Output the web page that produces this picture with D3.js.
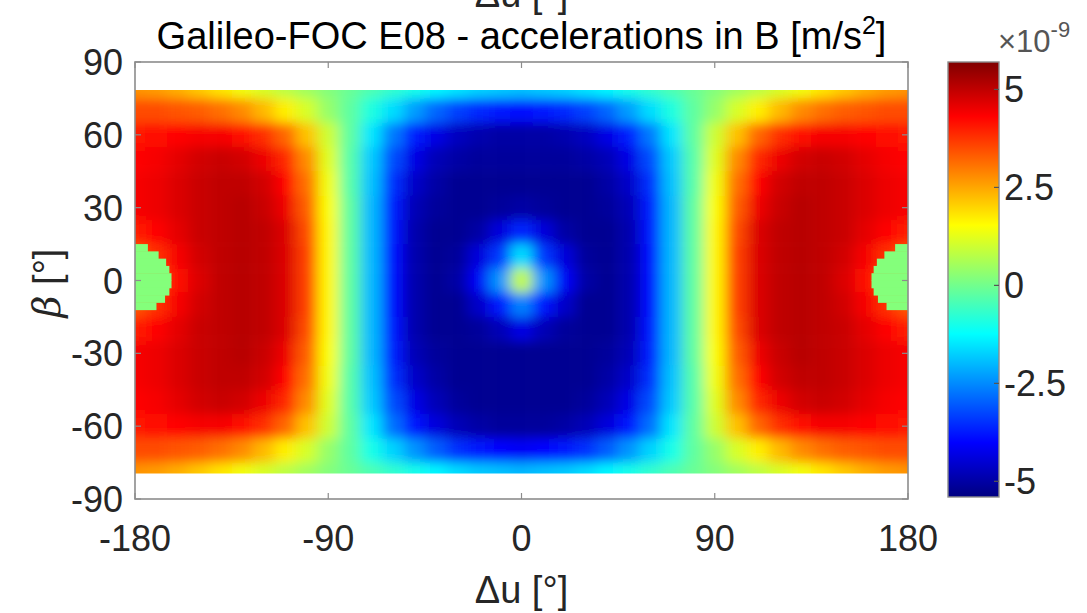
<!DOCTYPE html>
<html><head><meta charset="utf-8">
<script src="https://cdn.jsdelivr.net/npm/d3@7"></script>
<style>
html,body{margin:0;padding:0;background:#fff;}
svg{display:block;font-family:"Liberation Sans",Arial,Helvetica,sans-serif;}
</style>
</head><body>
<svg id="chart" width="1087" height="613"></svg>
<script>
// Argument of latitude offset (deg) and Sun elevation beta (deg) sample grid
const deltaU = [-180,-170,-160,-150,-140,-130,-120,-110,-100,-90,-80,-70,-60,-50,-40,-30,-20,-10,0,
                10,20,30,40,50,60,70,80,90,100,110,120,130,140,150,160,170,180];
const betaRows = [80,70,60,50,40,30,20,10,0,-10,-20,-30,-40,-50,-60,-70,-80];

// Acceleration in B (units of 1e-9 m/s^2), one array per beta row, ordered by deltaU
const accelB80  = [2.7,2.6,2.4,2.1,1.8,1.4,1.1,0.8,0.5,0.2,-0.1,-0.4,-0.7,-1.0,-1.3,-1.5,-1.7,-1.8,-1.9,-1.8,-1.7,-1.5,-1.3,-1.0,-0.7,-0.4,-0.1,0.2,0.5,0.8,1.1,1.4,1.8,2.1,2.4,2.6,2.7];
const accelB70  = [3.5,3.5,3.4,3.3,3.1,2.8,2.3,1.7,1.1,0.4,-0.2,-0.9,-1.6,-2.3,-2.9,-3.3,-3.6,-3.8,-3.9,-3.8,-3.6,-3.3,-2.9,-2.3,-1.6,-0.9,-0.2,0.4,1.1,1.7,2.3,2.8,3.1,3.3,3.4,3.5,3.5];
const accelB60  = [4.1,4.2,4.3,4.4,4.4,4.2,3.8,3.2,2.2,1.0,-0.2,-1.5,-2.7,-3.7,-4.3,-4.7,-4.9,-5.0,-5.0,-5.0,-4.9,-4.7,-4.3,-3.7,-2.7,-1.5,-0.2,1.0,2.2,3.2,3.8,4.2,4.4,4.4,4.3,4.2,4.1];
const accelB50  = [4.3,4.4,4.6,4.8,4.9,4.8,4.5,3.9,2.8,1.2,-0.3,-1.8,-3.2,-4.3,-4.8,-5.0,-5.1,-5.1,-5.1,-5.1,-5.1,-5.0,-4.8,-4.3,-3.2,-1.8,-0.3,1.2,2.8,3.9,4.5,4.8,4.9,4.8,4.6,4.4,4.3];
const accelB40  = [4.4,4.5,4.7,4.9,5.0,5.0,4.8,4.3,3.1,1.4,-0.3,-1.9,-3.5,-4.6,-5.0,-5.2,-5.2,-5.2,-5.2,-5.2,-5.2,-5.2,-5.0,-4.6,-3.5,-1.9,-0.3,1.4,3.1,4.3,4.8,5.0,5.0,4.9,4.7,4.5,4.4];
const accelB30  = [4.4,4.5,4.7,4.9,5.0,5.1,4.9,4.5,3.3,1.5,-0.2,-2.0,-3.7,-4.8,-5.1,-5.2,-5.2,-5.1,-5.0,-5.1,-5.2,-5.2,-5.1,-4.8,-3.7,-2.0,-0.2,1.5,3.3,4.5,4.9,5.1,5.0,4.9,4.7,4.5,4.4];
const accelB20  = [4.0,4.3,4.6,4.9,5.0,5.1,5.0,4.7,3.5,1.6,-0.2,-2.0,-3.8,-4.9,-5.2,-5.2,-5.0,-4.4,-3.6,-4.4,-5.0,-5.2,-5.2,-4.9,-3.8,-2.0,-0.2,1.6,3.5,4.7,5.0,5.1,5.0,4.9,4.6,4.3,4.0];
const accelB10  = [3.4,3.8,4.4,4.8,5.0,5.1,5.0,4.7,3.6,1.6,-0.2,-2.0,-3.9,-4.9,-5.2,-5.1,-4.4,-3.4,-1.6,-3.4,-4.4,-5.1,-5.2,-4.9,-3.9,-2.0,-0.2,1.6,3.6,4.7,5.0,5.1,5.0,4.8,4.4,3.8,3.4];
const accelB0   = [3.2,3.6,4.2,4.7,5.0,5.1,5.0,4.7,3.6,1.6,-0.2,-2.0,-3.9,-4.9,-5.2,-5.0,-4.1,-2.4,0.9,-2.4,-4.1,-5.0,-5.2,-4.9,-3.9,-2.0,-0.2,1.6,3.6,4.7,5.0,5.1,5.0,4.7,4.2,3.6,3.2];
const accelBm10 = [3.4,3.8,4.4,4.8,5.0,5.1,5.0,4.7,3.6,1.6,-0.2,-2.0,-3.9,-4.9,-5.2,-5.2,-4.6,-3.8,-2.6,-3.8,-4.6,-5.2,-5.2,-4.9,-3.9,-2.0,-0.2,1.6,3.6,4.7,5.0,5.1,5.0,4.8,4.4,3.8,3.4];
const accelBm20 = [4.0,4.3,4.6,4.9,5.0,5.1,5.0,4.7,3.5,1.6,-0.2,-2.0,-3.8,-4.9,-5.2,-5.2,-5.1,-4.8,-4.3,-4.8,-5.1,-5.2,-5.2,-4.9,-3.8,-2.0,-0.2,1.6,3.5,4.7,5.0,5.1,5.0,4.9,4.6,4.3,4.0];
const accelBm30 = [4.4,4.5,4.7,4.9,5.0,5.1,4.9,4.5,3.3,1.5,-0.2,-2.0,-3.7,-4.8,-5.1,-5.2,-5.2,-5.2,-5.2,-5.2,-5.2,-5.2,-5.1,-4.8,-3.7,-2.0,-0.2,1.5,3.3,4.5,4.9,5.1,5.0,4.9,4.7,4.5,4.4];
const accelBm40 = [4.4,4.5,4.7,4.9,5.0,5.0,4.8,4.3,3.1,1.4,-0.3,-1.9,-3.5,-4.6,-5.0,-5.2,-5.2,-5.2,-5.2,-5.2,-5.2,-5.2,-5.0,-4.6,-3.5,-1.9,-0.3,1.4,3.1,4.3,4.8,5.0,5.0,4.9,4.7,4.5,4.4];
const accelBm50 = [4.3,4.4,4.6,4.8,4.9,4.8,4.5,3.9,2.8,1.2,-0.3,-1.8,-3.2,-4.3,-4.8,-5.1,-5.2,-5.2,-5.2,-5.2,-5.2,-5.1,-4.8,-4.3,-3.2,-1.8,-0.3,1.2,2.8,3.9,4.5,4.8,4.9,4.8,4.6,4.4,4.3];
const accelBm60 = [4.1,4.2,4.3,4.4,4.4,4.2,3.8,3.2,2.2,1.0,-0.2,-1.5,-2.8,-3.8,-4.4,-4.8,-5.0,-5.1,-5.1,-5.1,-5.0,-4.8,-4.4,-3.8,-2.8,-1.5,-0.2,1.0,2.2,3.2,3.8,4.2,4.4,4.4,4.3,4.2,4.1];
const accelBm70 = [3.5,3.5,3.4,3.3,3.1,2.8,2.3,1.7,1.1,0.4,-0.2,-1.0,-1.7,-2.4,-3.0,-3.5,-3.8,-4.0,-4.1,-4.0,-3.8,-3.5,-3.0,-2.4,-1.7,-1.0,-0.2,0.4,1.1,1.7,2.3,2.8,3.1,3.3,3.4,3.5,3.5];
const accelBm80 = [2.7,2.6,2.4,2.1,1.8,1.4,1.1,0.8,0.5,0.2,-0.1,-0.4,-0.7,-1.0,-1.3,-1.6,-1.8,-1.9,-2.0,-1.9,-1.8,-1.6,-1.3,-1.0,-0.7,-0.4,-0.1,0.2,0.5,0.8,1.1,1.4,1.8,2.1,2.4,2.6,2.7];

// Eclipse season samples near deltaU = +-180: top edge of each 3-deg beta band and its reach in deltaU
const eclipseBandTop = [15,12,9,6,3,0,-3,-6,-9];
const eclipseReach   = [6,11,14.5,16,17,17,16,14,10];
const eclipseValue   = 0.2;

const betaExtent = [-79.5, 78.5];
const xTicks = [-180,-90,0,90,180];
const yTicks = [90,60,30,0,-30,-60,-90];
const cbTicks = [5,2.5,0,-2.5,-5];
const cbLimits = [-5.4,5.7];

const accelGrid = [accelB80,accelB70,accelB60,accelB50,accelB40,accelB30,accelB20,accelB10,accelB0,
                   accelBm10,accelBm20,accelBm30,accelBm40,accelBm50,accelBm60,accelBm70,accelBm80];

const svg = d3.select("#chart");
const plot = {left:135, right:908, top:62, bottom:499};
const x = d3.scaleLinear().domain([-180,180]).range([plot.left, plot.right]);
const y = d3.scaleLinear().domain([-90,90]).range([plot.bottom, plot.top]);

// MATLAB "jet" colormap over the colour limits
const jetFrac = [0, 1/8, 3/8, 5/8, 7/8, 1];
const jetCols = ["#000080","#0000ff","#00ffff","#ffff00","#ff0000","#800000"];
const color = d3.scaleLinear()
  .domain(jetFrac.map(f => cbLimits[0] + f*(cbLimits[1]-cbLimits[0])))
  .range(jetCols).interpolate(d3.interpolateRgb).clamp(true);

const defs = svg.append("defs");
defs.append("clipPath").attr("id","dataClip").append("rect")
  .attr("x", x(-180)).attr("y", y(betaExtent[1]))
  .attr("width", x(180)-x(-180)).attr("height", y(betaExtent[0])-y(betaExtent[1]));
const blur = defs.append("filter").attr("id","smooth")
  .attr("filterUnits","userSpaceOnUse")
  .attr("x",plot.left-40).attr("y",plot.top-40)
  .attr("width",plot.right-plot.left+80).attr("height",plot.bottom-plot.top+80);
blur.append("feGaussianBlur").attr("stdDeviation","7 6");

// Heat map cells
const cells = [];
accelGrid.forEach((row, i) => row.forEach((v, j) => cells.push({b: betaRows[i], u: deltaU[j], v, i, j})));
const half = 5, pad = 30;
const outer = svg.append("g").attr("clip-path","url(#dataClip)");
const heat = outer.append("g").attr("filter","url(#smooth)");
heat.selectAll("rect").data(cells).join("rect")
  .attr("x", d => x(d.u - half) - (d.j === 0 ? pad : 0))
  .attr("y", d => y(d.b + half) - (d.i === 0 ? pad : 0))
  .attr("width", d => x(d.u + half) - x(d.u - half) + (d.j === 0 || d.j === deltaU.length-1 ? pad : 0) + 0.5)
  .attr("height", d => y(d.b - half) - y(d.b + half) + (d.i === 0 || d.i === betaRows.length-1 ? pad : 0) + 0.5)
  .attr("fill", d => color(d.v));

// Eclipse patches at both ends of the deltaU range
const ecl = [];
eclipseBandTop.forEach((t, k) => {
  ecl.push({u0: -180, u1: -180 + eclipseReach[k], t});
  ecl.push({u0: 180 - eclipseReach[k], u1: 180, t});
});
outer.append("g").selectAll("rect").data(ecl).join("rect")
  .attr("x", d => x(d.u0)).attr("width", d => x(d.u1) - x(d.u0))
  .attr("y", d => y(d.t)).attr("height", d => y(d.t - 3) - y(d.t) + 0.5)
  .attr("fill", color(eclipseValue));

// Axes frame and ticks
const axisCol = "#8c8c8c";
svg.append("rect").attr("x",plot.left).attr("y",plot.top)
  .attr("width",plot.right-plot.left).attr("height",plot.bottom-plot.top)
  .attr("fill","none").attr("stroke",axisCol).attr("stroke-width",1.6);
const tk = svg.append("g").attr("stroke",axisCol).attr("stroke-width",1.2);
xTicks.forEach(t => {
  tk.append("line").attr("x1",x(t)).attr("x2",x(t)).attr("y1",plot.bottom).attr("y2",plot.bottom-6);
  tk.append("line").attr("x1",x(t)).attr("x2",x(t)).attr("y1",plot.top).attr("y2",plot.top+6);
});
yTicks.forEach(t => {
  tk.append("line").attr("x1",plot.left).attr("x2",plot.left+6).attr("y1",y(t)).attr("y2",y(t));
  tk.append("line").attr("x1",plot.right).attr("x2",plot.right-6).attr("y1",y(t)).attr("y2",y(t));
});

const txtCol = "#262626";
const fs = 36;
svg.append("g").selectAll("text").data(xTicks).join("text")
  .attr("x", d => x(d)).attr("y", 551).attr("text-anchor","middle")
  .attr("font-size",fs).attr("fill",txtCol).text(d => d);
svg.append("g").selectAll("text").data(yTicks).join("text")
  .attr("x", 123).attr("y", d => y(d) + 13).attr("text-anchor","end")
  .attr("font-size",fs).attr("fill",txtCol).text(d => d);

// Axis labels and title
svg.append("text").attr("x",(plot.left+plot.right)/2).attr("y",603).attr("text-anchor","middle")
  .attr("font-size",38).attr("fill",txtCol).text("Δu [°]");
const yl = svg.append("text").attr("transform","translate(60,283) rotate(-90)")
  .attr("text-anchor","middle").attr("font-size",38).attr("fill",txtCol);
yl.append("tspan").attr("font-family","'DejaVu Serif','Liberation Serif',serif").attr("font-style","italic").text("β");
yl.append("tspan").text(" [°]");
svg.append("text").attr("x",(plot.left+plot.right)/2).attr("y",7).attr("text-anchor","middle")
  .attr("font-size",38).attr("fill",txtCol).text("Δu [°]");
const title = svg.append("text").attr("x",(plot.left+plot.right)/2).attr("y",49).attr("text-anchor","middle")
  .attr("font-size",38).attr("fill","#000");
title.append("tspan").text("Galileo-FOC E08 - accelerations in B [m/s");
title.append("tspan").attr("dy",-15).attr("font-size",25).text("2");
title.append("tspan").attr("dy",15).text("]");

// Colour bar
const cb = {x:948, w:51, top:62, bottom:497};
const cy = d3.scaleLinear().domain(cbLimits).range([cb.bottom, cb.top]);
const grad = defs.append("linearGradient").attr("id","jetGrad")
  .attr("x1",0).attr("y1",1).attr("x2",0).attr("y2",0);
color.domain().forEach((v, k) => {
  grad.append("stop").attr("offset", (v - cbLimits[0])/(cbLimits[1]-cbLimits[0])).attr("stop-color", jetCols[k]);
});
svg.append("rect").attr("x",cb.x).attr("y",cb.top).attr("width",cb.w).attr("height",cb.bottom-cb.top)
  .attr("fill","url(#jetGrad)").attr("stroke",axisCol).attr("stroke-width",1.4);
const cbt = svg.append("g");
cbTicks.forEach(t => {
  cbt.append("line").attr("x1",cb.x+cb.w).attr("x2",cb.x+cb.w-5).attr("y1",cy(t)).attr("y2",cy(t))
    .attr("stroke","#555").attr("stroke-width",1.2);
  cbt.append("text").attr("x",cb.x+cb.w+5).attr("y",cy(t)+13).attr("font-size",fs).attr("fill",txtCol).text(t);
});
const ex = svg.append("text").attr("x",998).attr("y",52).attr("font-size",31).attr("fill","#555");
ex.append("tspan").text("×10");
ex.append("tspan").attr("dy",-15).attr("font-size",22).text("-9");
</script>
</body></html>
